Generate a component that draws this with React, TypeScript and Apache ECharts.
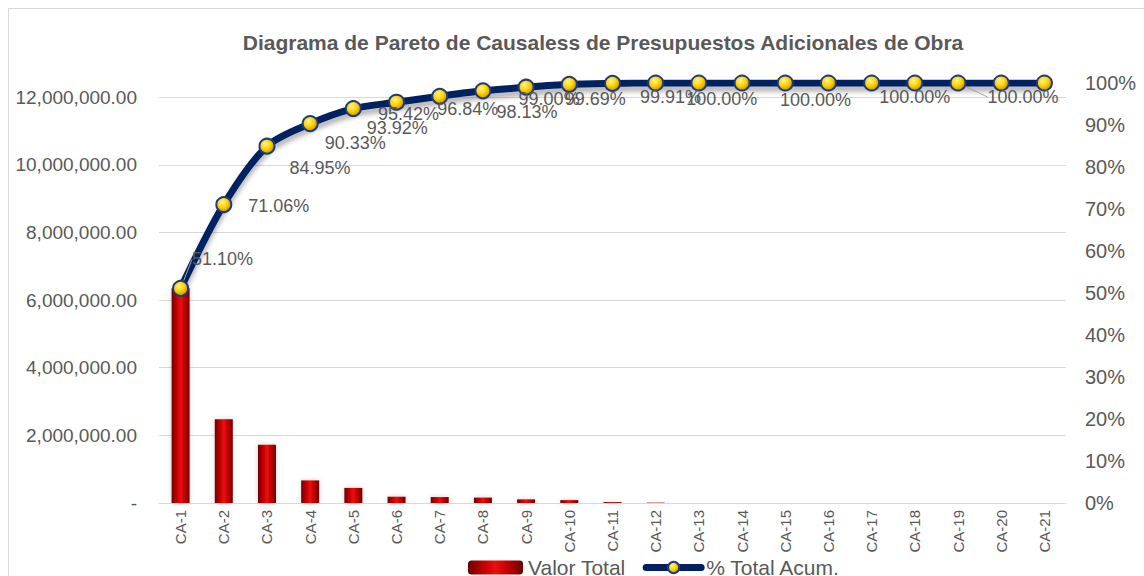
import React, { useEffect, useRef } from "react";
import * as echarts from "echarts";

const categories = [
  "CA-1", "CA-2", "CA-3", "CA-4", "CA-5", "CA-6", "CA-7", "CA-8", "CA-9", "CA-10",
  "CA-11", "CA-12", "CA-13", "CA-14", "CA-15", "CA-16", "CA-17", "CA-18", "CA-19", "CA-20", "CA-21",
];

const valorTotal = [
  6347000, 2479000, 1725000, 668000, 446000, 186000, 176000, 160000, 108000, 85700,
  27300, 11200, 0, 0, 0, 0, 0, 0, 0, 0, 0,
];

const pctAcum = [
  51.1, 71.06, 84.95, 90.33, 93.92, 95.42, 96.84, 98.13, 99.0, 99.69,
  99.91, 100, 100, 100, 100, 100, 100, 100, 100, 100, 100,
];

// label placement hints (style only): [dx, dy] from the marker centre, null = hidden
const labelShift: (number[] | null)[] = [
  [42, -29], [55, 1], [53, 22], [45, 19], [44, 19], [12, 12], [28, 13], [44, 21], [23, 12], [26, 15],
  [58, 14], [66, 16], null, null, null, [-13, 17], null, [0, 14], [65, 14], null, null,
];
const leaderLines = [0, 18];

const FONT = "Arial, 'Liberation Sans', sans-serif";
const GREY = "#595959";

export default function App() {
  const ref = useRef<HTMLDivElement>(null);
  useEffect(() => {
    if (!ref.current) return;
    const chart = echarts.init(ref.current, null, { renderer: "svg" });
    const total = valorTotal.reduce((a, b) => a + b, 0);

    const barColor = new echarts.graphic.LinearGradient(0, 0, 1, 0, [
      { offset: 0, color: "#6e0000" },
      { offset: 0.3, color: "#c80000" },
      { offset: 0.5, color: "#e81010" },
      { offset: 0.7, color: "#c80000" },
      { offset: 1, color: "#6e0000" },
    ]);
    const markerColor = new echarts.graphic.RadialGradient(0.4, 0.35, 0.7, [
      { offset: 0, color: "#fff48a" },
      { offset: 0.5, color: "#ffd200" },
      { offset: 1, color: "#b88a00" },
    ]);

    const lineData = pctAcum.map((p, i) => ({
      value: p / 100,
      label: { show: labelShift[i] !== null },
      labelLine: { show: leaderLines.includes(i) },
    }));

    chart.setOption({
      animation: false,
      textStyle: { fontFamily: FONT },
      title: {
        text: "Diagrama de Pareto de Causaless de Presupuestos Adicionales de Obra",
        left: 598,
        textAlign: "center",
        top: 27,
        textStyle: { fontSize: 21, fontWeight: "bold", color: GREY, fontFamily: FONT },
      },
      graphic: [
        {
          type: "rect",
          shape: { x: 8.5, y: 8.5, width: 1200, height: 700 },
          style: { fill: "none", stroke: "#d9d9d9", lineWidth: 1 },
          silent: true,
        },
      ],
      legend: {
        left: 463,
        top: 552,
        itemGap: 17,
        itemWidth: 55,
        itemHeight: 14,
        textStyle: { fontSize: 21, color: GREY, fontFamily: FONT },
        data: [
          { name: "Valor Total" },
          { name: "% Total Acum.", lineStyle: { width: 7, color: "#002060", cap: "round" } },
        ],
      },
      grid: { left: 159, right: 78, top: 83, bottom: 73 },
      xAxis: {
        type: "category",
        data: categories,
        axisLine: { lineStyle: { color: "#d9d9d9", width: 1 } },
        axisTick: { show: false },
        axisLabel: { rotate: 90, fontSize: 15, color: GREY, margin: 7, fontFamily: FONT },
      },
      yAxis: [
        {
          type: "value",
          min: 0,
          max: total,
          interval: 2000000,
          axisLine: { show: false },
          axisTick: { show: false },
          splitLine: { show: true, showMaxLine: false, lineStyle: { color: "#d9d9d9", width: 1 } },
          axisLabel: {
            showMaxLabel: false,
            fontSize: 19,
            color: GREY,
            margin: 22,
            fontFamily: FONT,
            formatter: (v: number) =>
              v === 0
                ? "-"
                : v % 2000000 !== 0
                ? ""
                : v.toLocaleString("en-US", { minimumFractionDigits: 2, maximumFractionDigits: 2 }),
          },
        },
        {
          type: "value",
          min: 0,
          max: 1,
          interval: 0.1,
          position: "right",
          axisLine: { show: false },
          axisTick: { show: false },
          splitLine: { show: false },
          axisLabel: {
            fontSize: 20,
            color: GREY,
            margin: 19,
            fontFamily: FONT,
            formatter: (v: number) => Math.round(v * 100) + "%",
          },
        },
      ],
      labelLayout: (params: any) => {
        if (params.seriesIndex !== 1) return {};
        const s = labelShift[params.dataIndex];
        if (!s) return {};
        const r = params.rect;
        return {
          x: r.x + r.width / 2 + s[0],
          y: r.y + r.height / 2 + s[1],
          align: "center",
          verticalAlign: "middle",
        };
      },
      series: [
        {
          name: "Valor Total",
          type: "bar",
          yAxisIndex: 0,
          data: valorTotal,
          barWidth: 18,
          itemStyle: {
            color: barColor,
            shadowColor: "rgba(0,0,0,0.18)",
            shadowBlur: 5,
            shadowOffsetX: 0,
            shadowOffsetY: 0,
          },
          z: 2,
        },
        {
          name: "% Total Acum.",
          type: "line",
          yAxisIndex: 1,
          data: lineData,
          smooth: 0.3,
          symbol: "circle",
          symbolSize: 15,
          lineStyle: {
            color: "#002060",
            width: 7,
            shadowColor: "rgba(0,0,0,0.3)",
            shadowBlur: 5,
            shadowOffsetY: 5,
          },
          itemStyle: {
            color: markerColor,
            borderColor: "#1f3a7a",
            borderWidth: 2,
          },
          label: {
            show: true,
            position: "inside",
            fontSize: 18,
            color: GREY,
            fontFamily: FONT,
            formatter: (p: any) => (p.value * 100).toFixed(2) + "%",
          },
          labelLine: { show: false, lineStyle: { color: "#a6a6a6", width: 1 } },
          z: 3,
        },
      ],
    });
    return () => chart.dispose();
  }, []);
  return (
    <div
      ref={ref}
      style={{ position: "fixed", left: 0, top: 0, width: 1144, height: 576, background: "#fff" }}
    />
  );
}
